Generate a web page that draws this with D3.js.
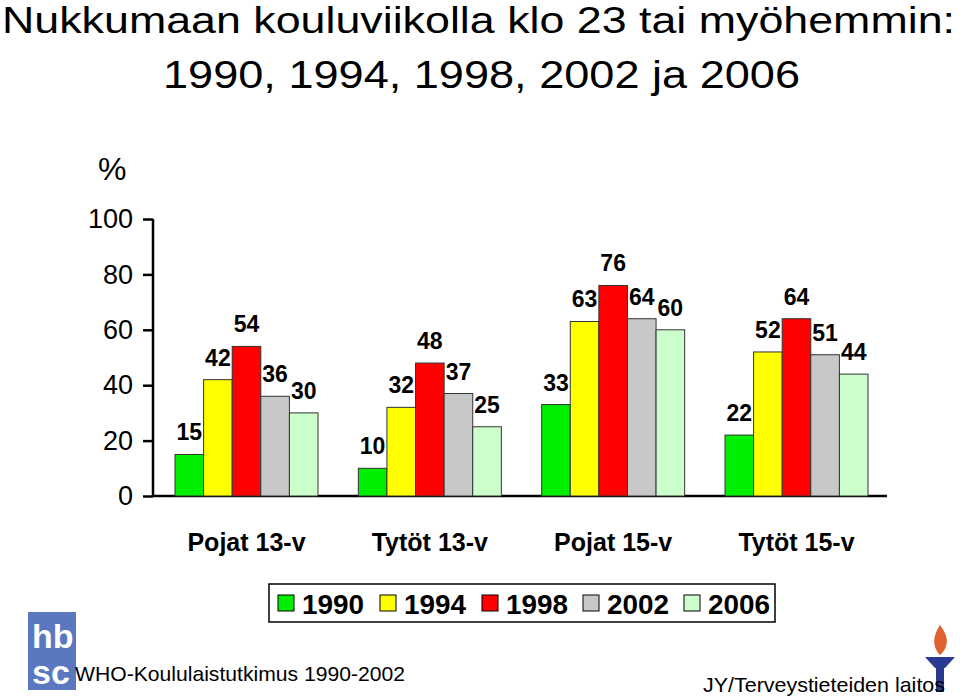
<!DOCTYPE html><html><head><meta charset="utf-8"><script src="https://cdn.jsdelivr.net/npm/d3@7"></script>
<style>body{margin:0;background:#fff}</style></head><body><svg id="c" width="960" height="696"></svg>
<script>
const categories=["Pojat 13-v","Tytöt 13-v","Pojat 15-v","Tytöt 15-v"];
const years=["1990","1994","1998","2002","2006"];
const values=[[15,42,54,36,30],[10,32,48,37,25],[33,63,76,64,60],[22,52,64,51,44]];
const colors=["#00ee00","#ffff00","#ff0000","#c8c8c8","#ccffcc"];
const yTicks=[0,20,40,60,80,100];
const svg=d3.select("#c");const F="Liberation Sans, Arial, sans-serif";
svg.append("text").attr("x",2).attr("y",33).attr("font-family",F).attr("font-size",36).attr("textLength",953).attr("lengthAdjust","spacingAndGlyphs").text("Nukkumaan kouluviikolla klo 23 tai myöhemmin:");
svg.append("text").attr("x",163).attr("y",88).attr("font-family",F).attr("font-size",38).attr("textLength",637).attr("lengthAdjust","spacingAndGlyphs").text("1990, 1994, 1998, 2002 ja 2006");
svg.append("text").attr("x",98).attr("y",180).attr("font-family",F).attr("font-size",32).text("%");
const y=d3.scaleLinear().domain([0,100]).range([496,219]);
const x0=d3.scaleBand().domain(categories).range([153,890]).paddingInner(0.22).paddingOuter(0.12);
const x1=d3.scaleBand().domain(years).range([0,x0.bandwidth()]);
const ax=svg.append("g").attr("transform","translate(153,0)").call(d3.axisLeft(y).tickValues(yTicks).tickSize(10).tickPadding(10));
ax.select(".domain").attr("stroke-width",2.5).attr("d","M0,219V496");
ax.selectAll(".tick line").attr("stroke-width",2.5);
ax.selectAll("text").attr("font-family",F).attr("font-size",27).attr("fill","#000");
svg.append("line").attr("x1",153).attr("x2",887).attr("y1",496).attr("y2",496).attr("stroke","#000").attr("stroke-width",2.5);
const g=svg.selectAll(".grp").data(values).join("g").attr("transform",(d,i)=>`translate(${x0(categories[i])},0)`);
g.selectAll("rect").data(d=>d).join("rect").attr("x",(d,j)=>x1(years[j])).attr("width",x1.bandwidth()).attr("y",d=>y(d)).attr("height",d=>496-y(d)).attr("fill",(d,j)=>colors[j]).attr("stroke","#333").attr("stroke-width",1);
g.selectAll("text.v").data(d=>d).join("text").attr("class","v").attr("x",(d,j)=>x1(years[j])+x1.bandwidth()/2).attr("y",d=>y(d)-14).attr("text-anchor","middle").attr("font-family",F).attr("font-size",23).attr("font-weight","bold").text(d=>d);
svg.selectAll("text.cat").data(categories).join("text").attr("x",d=>x0(d)+x0.bandwidth()/2).attr("y",551).attr("text-anchor","middle").attr("font-family",F).attr("font-size",25).attr("font-weight","bold").text(d=>d);
svg.append("rect").attr("x",269).attr("y",584).attr("width",506).attr("height",38).attr("fill","#fff").attr("stroke","#000").attr("stroke-width",1.5);
const lx=[278,380,482,583,684];
years.forEach((yr,i)=>{svg.append("rect").attr("x",lx[i]).attr("y",595).attr("width",16).attr("height",16).attr("fill",colors[i]).attr("stroke","#000");
svg.append("text").attr("x",lx[i]+24).attr("y",614).attr("font-family",F).attr("font-size",28).attr("font-weight","bold").attr("textLength",62).attr("lengthAdjust","spacingAndGlyphs").text(yr);});
svg.append("rect").attr("x",28).attr("y",612).attr("width",48).attr("height",78).attr("fill","#5a78c0");
svg.append("text").attr("x",32).attr("y",648).attr("font-family",F).attr("font-size",34).attr("font-weight","bold").attr("fill","#fff").text("hb");
svg.append("text").attr("x",32).attr("y",684).attr("font-family",F).attr("font-size",34).attr("font-weight","bold").attr("fill","#fff").text("sc");
svg.append("text").attr("x",75).attr("y",681).attr("font-family",F).attr("font-size",21).attr("textLength",330).attr("lengthAdjust","spacingAndGlyphs").text("WHO-Koululaistutkimus 1990-2002");
svg.append("path").attr("d","M940,625 C930,640 935,650 940,655 C948,648 950,638 940,625Z").attr("fill","#e06030");
svg.append("path").attr("d","M925,657 L955,657 L945,668 L935,668Z").attr("fill","#2a3a90");
svg.append("rect").attr("x",936).attr("y",668).attr("width",8).attr("height",24).attr("fill","#2a3a90");
svg.append("text").attr("x",703).attr("y",692).attr("font-family",F).attr("font-size",21).attr("textLength",242).attr("lengthAdjust","spacingAndGlyphs").text("JY/Terveystieteiden laitos");
</script></body></html>
